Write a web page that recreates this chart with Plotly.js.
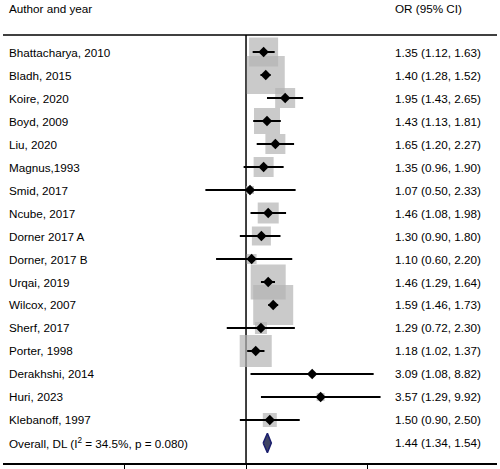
<!DOCTYPE html>
<html>
<head>
<meta charset="utf-8">
<script src="https://cdn.plot.ly/plotly-3.0.1.min.js"></script>
<style>html,body{margin:0;padding:0;background:#fff;}#chart{width:500px;height:469px;}</style>
</head>
<body>
<div id="chart"></div>
<script>
// ---- data ----
const studies = ["Bhattacharya, 2010","Bladh, 2015","Koire, 2020","Boyd, 2009","Liu, 2020","Magnus,1993","Smid, 2017","Ncube, 2017","Dorner 2017 A","Dorner, 2017 B","Urqai, 2019","Wilcox, 2007","Sherf, 2017","Porter, 1998","Derakhshi, 2014","Huri, 2023","Klebanoff, 1997"];
const orValues = [1.35,1.40,1.95,1.43,1.65,1.35,1.07,1.46,1.30,1.10,1.46,1.59,1.29,1.18,3.09,3.57,1.50];
const ciLower  = [1.12,1.28,1.43,1.13,1.20,0.96,0.50,1.08,0.90,0.60,1.29,1.46,0.72,1.02,1.08,1.29,0.90];
const ciUpper  = [1.63,1.52,2.65,1.81,2.27,1.90,2.33,1.98,1.80,2.20,1.64,1.73,2.30,1.37,8.82,9.92,2.50];
const weights  = [8.94,15.35,4.25,7.19,4.25,4.25,0.68,4.69,3.84,1.06,13.02,17.01,1.53,10.89,0.27,0.68,2.08];
const overallLabel = "Overall, DL (I<sup>2</sup> = 34.5%, p = 0.080)";
const overallOR = 1.44, overallLo = 1.34, overallHi = 1.54;
const headerLeft = "Author and year";
const headerRight = "OR (95% CI)";
const xTicks = [0.125, 1, 8];

// ---- build ----
const rows = studies.map((_, i) => i);
const overallRow = studies.length;
const fmt = (v, l, h) => `${v.toFixed(2)} (${l.toFixed(2)}, ${h.toFixed(2)})`;

const boxTrace = {
  type: 'scatter', mode: 'markers', x: orValues, y: rows,
  marker: {symbol: 'square', color: '#b4b4b4', size: weights.map(w => 9.7 * Math.sqrt(w)), line: {width: 0}},
  hoverinfo: 'skip'
};
const ciX = [], ciY = [];
rows.forEach(i => { ciX.push(ciLower[i], ciUpper[i], null); ciY.push(i, i, null); });
const ciTrace = {type: 'scatter', mode: 'lines', x: ciX, y: ciY, line: {color: '#000', width: 2}, hoverinfo: 'skip'};
const pointTrace = {type: 'scatter', mode: 'markers', x: orValues, y: rows,
  marker: {symbol: 'diamond', color: '#000', size: 8, line: {width: 0}}, hoverinfo: 'skip'};
const dh = 0.42;
const diamondTrace = {type: 'scatter', mode: 'lines',
  x: [overallLo, overallOR, overallHi, overallOR, overallLo],
  y: [overallRow, overallRow - dh, overallRow, overallRow + dh, overallRow],
  fill: 'toself', fillcolor: '#3f4463', line: {color: '#1b1f6e', width: 1.5}, hoverinfo: 'skip'};

const font = {family: 'Liberation Sans, Arial, sans-serif', size: 11.7, color: '#000'};
const annotations = [];
const leftX = 0.0081, rightX = 0.789;
studies.forEach((s, i) => {
  annotations.push({xref: 'paper', yref: 'y', x: leftX, y: i, text: s, showarrow: false, xanchor: 'left', yanchor: 'middle', font});
  annotations.push({xref: 'paper', yref: 'y', x: rightX, y: i, text: fmt(orValues[i], ciLower[i], ciUpper[i]), showarrow: false, xanchor: 'left', yanchor: 'middle', font});
});
annotations.push({xref: 'paper', yref: 'y', x: leftX, y: overallRow, text: overallLabel, showarrow: false, xanchor: 'left', yanchor: 'middle', font});
annotations.push({xref: 'paper', yref: 'y', x: rightX, y: overallRow, text: fmt(overallOR, overallLo, overallHi), showarrow: false, xanchor: 'left', yanchor: 'middle', font});
annotations.push({xref: 'paper', yref: 'y', x: leftX, y: -1.89, text: headerLeft, showarrow: false, xanchor: 'left', yanchor: 'middle', font});
annotations.push({xref: 'paper', yref: 'y', x: rightX, y: -1.89, text: headerRight, showarrow: false, xanchor: 'left', yanchor: 'middle', font});

const topLineRow = -0.739;
const layout = {
  width: 500, height: 469,
  margin: {l: 3, r: 3, t: 0, b: 6, pad: 0},
  paper_bgcolor: '#fff', plot_bgcolor: '#fff',
  showlegend: false,
  xaxis: {type: 'log', range: [-1.8, 1.859], showgrid: false, zeroline: false,
    showline: true, linecolor: '#000', linewidth: 1.5, ticks: 'outside', ticklen: 6, tickcolor: '#000', tickwidth: 1,
    tickvals: xTicks, showticklabels: false, fixedrange: true},
  yaxis: {range: [17.87, -2.261], showgrid: false, zeroline: false, showline: false, showticklabels: false, ticks: '', fixedrange: true},
  shapes: [
    {type: 'line', xref: 'paper', yref: 'y', x0: 0, x1: 1, y0: topLineRow, y1: topLineRow, line: {color: '#000', width: 1.5}},
    {type: 'line', xref: 'x', yref: 'y', x0: 1, x1: 1, y0: topLineRow, y1: 17.87, line: {color: '#000', width: 1.5}, layer: 'below'}
  ],
  annotations
};
Plotly.newPlot('chart', [boxTrace, ciTrace, pointTrace, diamondTrace], layout, {displayModeBar: false, staticPlot: true});
</script>
</body>
</html>
